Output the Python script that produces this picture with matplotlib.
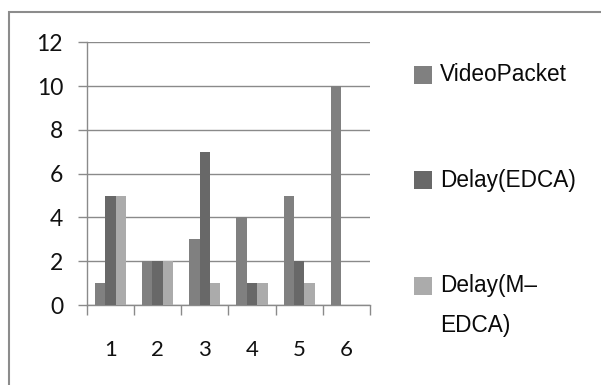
import matplotlib
matplotlib.use("Agg")
import matplotlib.pyplot as plt
from matplotlib.patches import Rectangle
import numpy as np

categories = [1, 2, 3, 4, 5, 6]
video_packet = [1, 2, 3, 4, 5, 10]
delay_edca = [5, 2, 7, 1, 2, 0]
delay_medca = [5, 2, 1, 1, 1, 0]

series_names = ["VideoPacket", "Delay(EDCA)", "Delay(M\u2013\nEDCA)"]
series_colors = ["#808080", "#686868", "#ababab"]
y_ticks = [0, 2, 4, 6, 8, 10, 12]

W, H = 601, 385
fig = plt.figure(figsize=(W / 100, H / 100), dpi=100)
fig.patch.set_facecolor("white")


def fx(px):
    return px / W


def fy(py):
    return 1 - py / H


# outer chart border (runs off the right and bottom edges)
fig.add_artist(Rectangle((fx(9), fy(420)), 1.2, fy(12) - fy(420),
                         transform=fig.transFigure, fill=False,
                         edgecolor="#8c8c8c", linewidth=1.5))

ax = fig.add_axes([fx(86.7), fy(305), fx(370) - fx(86.7), fy(42.3) - fy(305)])

x = np.array(categories)
width = 0.22
all_series = [video_packet, delay_edca, delay_medca]
for i, vals in enumerate(all_series):
    ax.bar(x + (i - 1) * width, vals, width, color=series_colors[i],
           linewidth=0, zorder=3)

ax.set_xlim(0.5, 6.5)
ax.set_ylim(0, 12)
ax.set_yticks(y_ticks)
ax.yaxis.grid(True, color="#8a8a8a", linewidth=1.0, zorder=0)
ax.set_axisbelow(True)

for side in ["top", "right"]:
    ax.spines[side].set_visible(False)
for side in ["left", "bottom"]:
    ax.spines[side].set_color("#8a8a8a")
    ax.spines[side].set_linewidth(1.0)

# category labels in the middle, tick marks between categories
ax.set_xticks(x)
ax.set_xticklabels([str(c) for c in categories])
ax.set_xticks(np.arange(0.5, 7.0, 1.0), minor=True)
ax.tick_params(axis="x", which="major", length=0, pad=25,
               labelsize=16, labelcolor="#111111")
ax.tick_params(axis="x", which="minor", length=7.2, width=1.0,
               color="#8a8a8a", direction="out")
ax.tick_params(axis="y", length=6.5, width=1.0, color="#8a8a8a",
               pad=10.5, labelsize=16.5, labelcolor="#111111")
for lab in ax.get_xticklabels() + ax.get_yticklabels():
    lab.set_family(["Lato", "DejaVu Sans"])

# legend drawn by hand so the square sits beside the first text line
legend_y = [74.7, 180.0, 285.5]
for name, color, yc in zip(series_names, series_colors, legend_y):
    fig.add_artist(Rectangle((fx(413.5), fy(yc + 9)), fx(18), fy(yc - 9) - fy(yc + 9),
                             transform=fig.transFigure, facecolor=color,
                             edgecolor="none"))
    fig.text(fx(440), fy(yc - 11.5), name, ha="left", va="top",
             fontsize=16.3, family=["Liberation Sans", "DejaVu Sans"],
             color="#0a0a0a", linespacing=1.95)

fig.savefig("out.png", dpi=100)
